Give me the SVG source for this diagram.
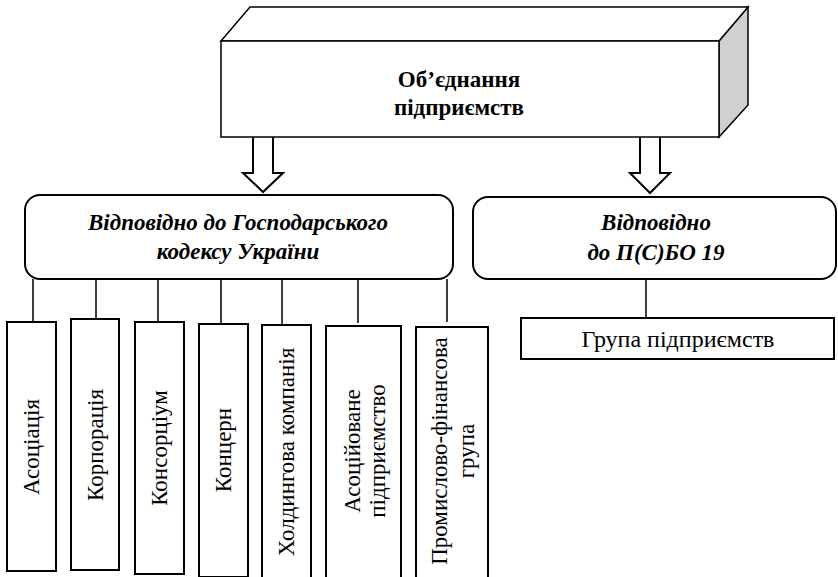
<svg xmlns="http://www.w3.org/2000/svg" width="838" height="577" viewBox="0 0 838 577">
<style>
.ln{fill:none;stroke:#000;stroke-width:1.5}
.bx{fill:#fff;stroke:#000;stroke-width:2}
.t{font-family:"Liberation Serif","Times New Roman",serif;fill:#000}
.tb{font-weight:bold;font-size:23px}
.ti{font-weight:bold;font-style:italic;font-size:23px}
.tr{font-size:24px}
.tv{font-size:23px}
</style>
<rect width="838" height="577" fill="#fff"/>
<g id="connectors">
<path class="ln" d="M33,279V322M96,279V319M158,279V322M221,279V324M282,279V325M358,279V323M447,279V322M646,279V318"/>
<path class="bx" stroke-width="1.5" d="M253,137V173H243L263,192L283,173H273V137"/>
<path class="bx" stroke-width="1.5" d="M640,137V173H630L650,193L670,173H660V137"/>
</g>
<g id="top">
<path d="M719,41L748,7V105L719,137Z" fill="#d0d0d0" stroke="#000" stroke-width="1.5"/>
<path d="M221,41L250,7H748L719,41Z" fill="#fff" stroke="#000" stroke-width="1.5"/>
<rect x="221" y="41" width="498" height="96" fill="#fff" stroke="#000" stroke-width="1.5"/>
<text class="t tb" text-anchor="middle" x="459" y="87">Об’єднання</text>
<text class="t tb" text-anchor="middle" x="459" y="115">підприємств</text>
</g>
<g id="gk">
<rect class="bx" x="25" y="195" width="428" height="84" rx="15"/>
<text class="t ti" text-anchor="middle" x="238" y="230">Відповідно до Господарського</text>
<text class="t ti" text-anchor="middle" x="238" y="259">кодексу України</text>
</g>
<g id="psbo">
<rect class="bx" x="473" y="197" width="363" height="82" rx="15"/>
<text class="t ti" text-anchor="middle" x="656" y="230">Відповідно</text>
<text class="t ti" text-anchor="middle" x="656" y="260">до П(С)БО 19</text>
</g>
<g id="grupa">
<rect class="bx" x="521" y="318" width="313" height="41" stroke-width="2.5"/>
<text class="t tr" text-anchor="middle" x="678" y="347">Група підприємств</text>
</g>
<g id="v1"><rect class="bx" x="7" y="322" width="49" height="249"/><text class="t tv" text-anchor="middle" transform="translate(31,447) rotate(-90)" y="8">Асоціація</text></g>
<g id="v2"><rect class="bx" x="71" y="319" width="48" height="251"/><text class="t tv" text-anchor="middle" transform="translate(95,445) rotate(-90)" y="8">Корпорація</text></g>
<g id="v3"><rect class="bx" x="135" y="322" width="49" height="252"/><text class="t tv" text-anchor="middle" transform="translate(159,448) rotate(-90)" y="8">Консорціум</text></g>
<g id="v4"><rect class="bx" x="199" y="324" width="49" height="253"/><text class="t tv" text-anchor="middle" transform="translate(223,450) rotate(-90)" y="8">Концерн</text></g>
<g id="v5"><rect class="bx" x="262" y="325" width="49" height="260"/><text class="t tv" text-anchor="middle" transform="translate(286,452) rotate(-90)" y="8">Холдингова компанія</text></g>
<g id="v6"><rect class="bx" x="326" y="326" width="75" height="260"/><text class="t tv" text-anchor="middle" transform="translate(363,451) rotate(-90)"><tspan x="0" y="-3">Асоційоване</tspan><tspan x="0" y="22">підприємство</tspan></text></g>
<g id="v7"><rect class="bx" x="416" y="327" width="72" height="260"/><text class="t tv" text-anchor="middle" transform="translate(452,451) rotate(-90)"><tspan x="0" y="-5">Промислово-фінансова</tspan><tspan x="0" y="22">група</tspan></text></g>
</svg>
